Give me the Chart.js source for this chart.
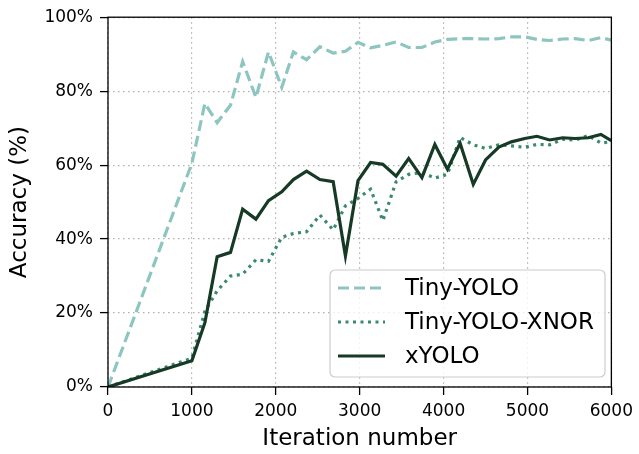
<!DOCTYPE html>
<html>
<head>
<meta charset="utf-8">
<script src="https://cdn.jsdelivr.net/npm/chart.js@4"></script>
<style>
  body { margin: 0; background: #fff; }
  #wrap { width: 639px; height: 454px; }
</style>
</head>
<body>
<div id="wrap"><canvas id="accChart" width="639" height="454"></canvas></div>
<script>
// datos
const iterations = [0, 1000, 1155, 1301, 1460, 1605, 1763, 1913, 2071, 2210, 2367, 2526, 2684, 2830, 2980,
    3130, 3276, 3434, 3584, 3742, 3896, 4046, 4197, 4354, 4500, 4659, 4808, 4967, 5113, 5263, 5421,
    5567, 5725, 5875, 6000];
const tinyYolo = [0, 60.5, 76.7, 71.5, 76.2, 88, 78.3, 90.6, 81, 90.6, 88.5, 92, 90.3, 90.8, 93.2,
    91.7, 92.4, 93.3, 91.8, 91.8, 93.3, 94, 94.2, 94.2, 94.1, 94.2, 94.7, 94.7, 94, 93.7, 94.1,
    94.2, 93.7, 94.5, 93.8];
const tinyYoloXnor = [0, 7.8, 20.5, 26, 30, 30.5, 34.4, 34, 40.5, 41.5, 42, 46.5, 42.5, 49, 51,
    53.5, 45, 55.5, 57.5, 58, 56.5, 57.5, 67.5, 65.5, 64.5, 65.5, 65.2, 64.8, 65.6, 65.5, 67,
    66.8, 68, 66, 66.3];
const xYolo = [0, 7.1, 17.4, 35.2, 36.4, 48.1, 45.4, 50.4, 52.8, 56.1, 58.4, 56.1, 55.5, 35.4, 55.8,
    60.7, 60.2, 57.0, 61.8, 56.6, 65.6, 58.9, 65.9, 54.8, 61.4, 64.9, 66.3, 67.2, 67.8, 66.8, 67.4,
    67.2, 67.4, 68.3, 66.6];
const seriesNames = ["Tiny-YOLO", "Tiny-YOLO-XNOR", "xYOLO"];
const xTicks = [0, 1000, 2000, 3000, 4000, 5000, 6000];
const yTicks = [0, 20, 40, 60, 80, 100];

const FONT = "'DejaVu Sans', sans-serif";

const toPoints = vals => vals.map((v, i) => ({ x: iterations[i], y: v }));

// marco completo (spines) + leyenda dentro del grafico
const framePlugin = {
    id: "frame",
    afterDatasetsDraw(chart) {
        const { ctx, chartArea: a } = chart;
        ctx.save();
        ctx.strokeStyle = "#000";
        ctx.lineWidth = 1.3;
        ctx.strokeRect(a.left, a.top, a.right - a.left, a.bottom - a.top);
        ctx.restore();
    },
    afterDraw(chart) {
        const { ctx } = chart;
        const box = { x: 330, y: 270, w: 275, h: 107, r: 5 };
        ctx.save();
        ctx.beginPath();
        ctx.roundRect(box.x, box.y, box.w, box.h, box.r);
        ctx.fillStyle = "rgba(255,255,255,0.8)";
        ctx.fill();
        ctx.strokeStyle = "#cccccc";
        ctx.lineWidth = 1.2;
        ctx.stroke();

        chart.data.datasets.forEach((ds, i) => {
            const y = 288 + i * 34;
            ctx.beginPath();
            ctx.setLineDash(ds.borderDash || []);
            ctx.strokeStyle = ds.borderColor;
            ctx.lineWidth = ds.borderWidth;
            ctx.moveTo(338, y);
            ctx.lineTo(385, y);
            ctx.stroke();
            ctx.setLineDash([]);
            ctx.fillStyle = "#000";
            ctx.font = "23px " + FONT;
            ctx.textBaseline = "middle";
            ctx.fillText(ds.label, 405, y + 1);
        });
        ctx.restore();
    }
};

const gridCommon = {
    color: "#b0b0b0",
    lineWidth: 1.2,
    tickColor: "#000",
    tickWidth: 1.3,
    tickLength: 8,
    tickBorderDash: []
};

new Chart(document.getElementById("accChart").getContext("2d"), {
    type: "line",
    data: {
        datasets: [{
            label: seriesNames[0],
            data: toPoints(tinyYolo),
            borderColor: "#8dc5c0",
            borderWidth: 3.2,
            borderDash: [11, 5],
            order: 3
        }, {
            label: seriesNames[1],
            data: toPoints(tinyYoloXnor),
            borderColor: "#3b8a6c",
            borderWidth: 3.2,
            borderDash: [3, 4.5],
            order: 2
        }, {
            label: seriesNames[2],
            data: toPoints(xYolo),
            borderColor: "#163a26",
            borderWidth: 3.2,
            order: 1
        }]
    },
    options: {
        responsive: false,
        animation: false,
        devicePixelRatio: 1,
        elements: { point: { radius: 0 }, line: { tension: 0, borderCapStyle: "butt", borderJoinStyle: "miter" } },
        layout: { padding: { left: 0, top: 17, right: 24, bottom: 0 } },
        plugins: { legend: { display: false }, tooltip: { enabled: false } },
        scales: {
            x: {
                type: "linear",
                min: 0,
                max: 6000,
                afterBuildTicks: s => { s.ticks = xTicks.map(v => ({ value: v })); },
                afterFit: s => { s.height = 67; },
                grid: gridCommon,
                border: { display: false, dash: [1.5, 3.5] },
                ticks: { color: "#000", font: { family: FONT, size: 17 }, padding: 6, maxRotation: 0,
                    callback: v => String(v) },
                title: { display: true, text: "Iteration number", color: "#000",
                    font: { family: FONT, size: 23 }, padding: { top: 0, bottom: 1 } }
            },
            y: {
                min: 0,
                max: 100,
                afterBuildTicks: s => { s.ticks = yTicks.map(v => ({ value: v })); },
                afterFit: s => { s.width = 108; },
                grid: gridCommon,
                border: { display: false, dash: [1.5, 3.5] },
                ticks: { color: "#000", font: { family: FONT, size: 17 }, padding: 7,
                    callback: v => v + "%" },
                title: { display: true, text: "Accuracy (%)", color: "#000",
                    font: { family: FONT, size: 23 }, padding: { top: 6, bottom: 0 } }
            }
        }
    },
    plugins: [framePlugin]
});
</script>
</body>
</html>
